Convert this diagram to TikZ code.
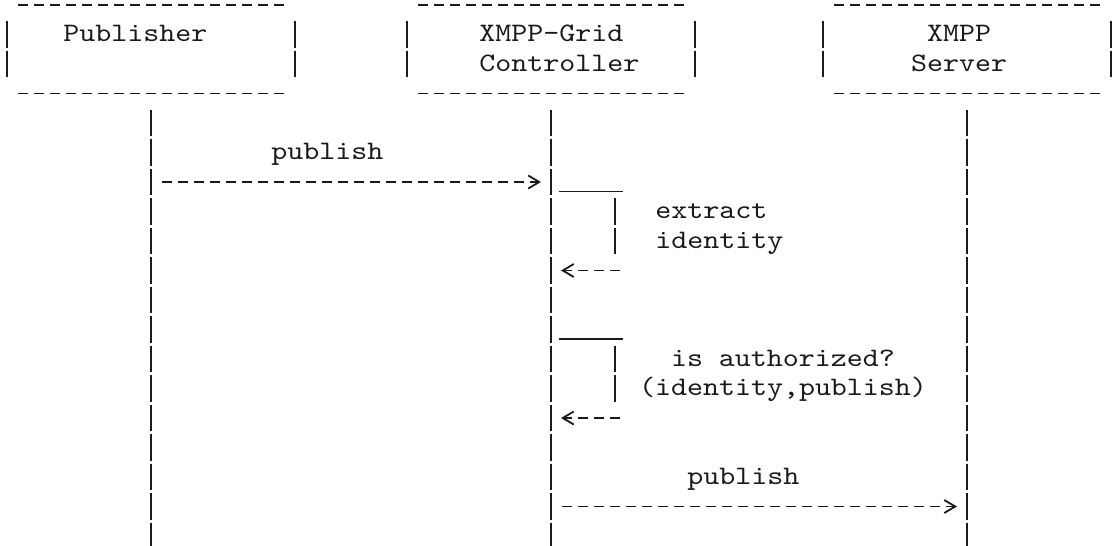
\documentclass[tikz,border=0pt]{standalone}
\usepackage{fontspec}
\setmonofont[FakeStretch=1.143]{lmmono10-regular.otf}
\usepackage{tikz}
\usetikzlibrary{arrows.meta,positioning,calc}
\definecolor{cInk}{HTML}{1A1A1A}
\tikzset{
  ink/.style={line width=0.9pt, draw=cInk},
  bars/.style={ink, dash pattern=on 13.25pt off 1.5pt},
  dashes/.style={ink, dash pattern=on 5pt off 3pt},
  party/.style={minimum width=144pt, minimum height=28.25pt, inner sep=0pt, outer sep=0pt},
  txt/.style={font=\ttfamily\fontsize{13.33pt}{14.75pt}\selectfont, text=cInk, inner sep=0pt},
  msg/.style={dashes, -{Straight Barb[length=5.5pt,width=6.5pt]}}
}

\begin{document}
\begin{tikzpicture}[x=0.5pt, y=-0.5pt]
\useasboundingbox (0,0) rectangle (1115,546);
% ----- text rows -----
\foreach \r in {0,...,18} \coordinate (r\r) at (0,{5+29.5*\r});
% ----- parties -----
\node[party] (pub) at (151,49.25) {};
\node[party] (ctl) at (551,49.25) {};
\node[party] (srv) at (967,49.25) {};
\node[txt, anchor=base west] (pubname) at (63,41.5) {Publisher};
\node[txt, anchor=base west, align=left] (ctlname) at (479,71) {XMPP-Grid\\Controller};
\node[txt, anchor=base, align=center] (srvname) at (959,71) {XMPP\\Server};
\foreach \b in {pub,ctl,srv} {
  \draw[bars] (\b.north west) -- (\b.south west);
  \draw[bars] (\b.north east) -- (\b.south east);
  \draw[dashes] ([shift={(11,-16)}]\b.north west) -- ([shift={(-11,-16)}]\b.north east);
  \draw[dashes] ([shift={(11,16)}]\b.south west) -- ([shift={(-11,16)}]\b.south east);
  \draw[bars] ([yshift=-16pt]\b.south) -- ([yshift=-6.75pt]\b |- r18);
}
% ----- publish to controller -----
\draw[msg, shorten <=5.5pt, shorten >=5pt] (pub |- r6) -- (ctl |- r6);
\node[txt, anchor=base west] (pubmsg) at (271,159.5) {publish};
% ----- extract identity -----
\draw[ink] ([shift={(8,9.5)}]ctl |- r6) -- ++(64,0);
\draw[bars] ([shift={(64,-13.5)}]ctl |- r7) -- ([shift={(64,13.5)}]ctl |- r8);
\draw[msg] ([xshift=34.5pt]ctl |- r9) -- ([xshift=5pt]ctl |- r9);
\node[txt, anchor=base west, align=left] (extract) at (655,248) {extract\\identity};
% ----- authorization check -----
\draw[ink] ([shift={(8,9.5)}]ctl |- r11) -- ++(64,0);
\draw[bars] ([shift={(64,-13.5)}]ctl |- r12) -- ([shift={(64,13.5)}]ctl |- r13);
\draw[msg] ([xshift=34.5pt]ctl |- r14) -- ([xshift=5pt]ctl |- r14);
\node[txt, anchor=base, align=center] (authz) at (783,395.5) {is authorized?\\(identity,publish)};
% ----- publish to server -----
\draw[msg, shorten <=5.5pt, shorten >=5pt] (ctl |- r17) -- (srv |- r17);
\node[txt, anchor=base west] (srvmsg) at (687,484) {publish};
\end{tikzpicture}
\end{document}
